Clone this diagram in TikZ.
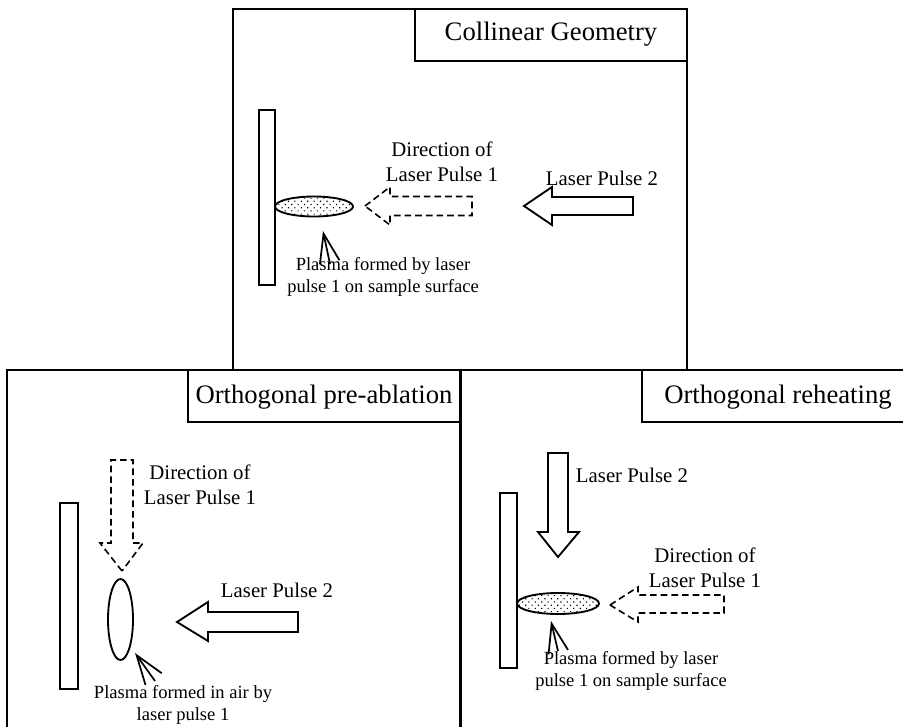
\documentclass[tikz,border=0pt]{standalone}
\usepackage{fontspec}
\setmainfont{Liberation Serif}
\usetikzlibrary{arrows.meta,patterns.meta}
\begin{document}
\begin{tikzpicture}[x=0.75pt,y=-0.75pt,
  panel/.style={draw=black,line width=1.4pt,fill=white},
  titlebox/.style={draw=black,line width=1.2pt,fill=white},
  titletext/.style={font=\fontsize{20}{24}\selectfont,inner sep=0pt},
  label/.style={font=\fontsize{15.6}{18.8}\selectfont,align=center,inner sep=0pt},
  smalllabel/.style={font=\fontsize{13.9}{16.5}\selectfont,align=center,inner sep=0pt},
  sample/.style={draw=black,line width=1.4pt},
  blockarrow/.style={draw=black,line width=1.4pt,line join=miter},
  dasharrow/.style={draw=black,line width=1.2pt,dash pattern=on 5pt off 3pt},
  plasma/.style={draw=black,line width=1.4pt,pattern={Dots[distance=3.4pt,angle=45,radius=0.6pt]}},
  airplasma/.style={draw=black,line width=1.4pt},
  pointer/.style={draw=black,line width=1.3pt,-{Straight Barb[length=22pt,width=15pt,line width=1.3pt]}}
]
\useasboundingbox (0,0) rectangle (903,727);
\fill[white] (0,0) rectangle (903,727);

% ---------------- top panel: collinear ----------------
\draw[panel] (233,9) rectangle (687,370);
\draw[titlebox] (415,9) rectangle (687,61);
\node[titletext] (tTitle) at (551,34) {Collinear Geometry};

\draw[sample] (259,110) rectangle (275,285);
\draw[plasma] (314,206.5) ellipse [x radius=39, y radius=10];
\draw[dasharrow] (365,206) -- (390,187) -- (390,196.5) -- (472,196.5) -- (472,215.5) -- (390,215.5) -- (390,225) -- cycle;
\draw[blockarrow] (524,206) -- (552,187) -- (552,197) -- (633,197) -- (633,215) -- (552,215) -- (552,225) -- cycle;
\node[label] (tDir) at (442,162) {Direction of\\Laser Pulse 1};
\node[label] (tLP2) at (602,178) {Laser Pulse 2};
\coordinate (tPtip) at (323,231);
\coordinate (tPtail) at (330,264);
\draw[pointer] (tPtail) -- (tPtip);
\node[smalllabel] (tPl) at (383,277) {Plasma formed by laser\\pulse 1 on sample surface};

% ---------------- bottom left: orthogonal pre-ablation ----------------
\draw[panel] (7,370) rectangle (460,740);
\draw[titlebox] (188,370) rectangle (460,422);
\node[titletext] (lTitle) at (324,397) {Orthogonal pre-ablation};

\draw[sample] (60,503) rectangle (78,689);
\draw[airplasma] (120.5,619.5) ellipse [x radius=12.5, y radius=40.5];
\draw[dasharrow] (122,571) -- (100,543) -- (111,543) -- (111,460) -- (133,460) -- (133,543) -- (143,543) -- cycle;
\draw[blockarrow] (177,622) -- (208,602) -- (208,612) -- (298,612) -- (298,632) -- (208,632) -- (208,641) -- cycle;
\node[label] (lDir) at (200,485) {Direction of\\Laser Pulse 1};
\node[label] (lLP2) at (277,590) {Laser Pulse 2};
\coordinate (lPtip) at (135,653);
\coordinate (lPtail) at (155,681);
\draw[pointer] (lPtail) -- (lPtip);
\node[smalllabel] (lPl) at (183,705) {Plasma formed in air by\\laser pulse 1};

% ---------------- bottom right: orthogonal reheating ----------------
\draw[panel] (461,370) rectangle (910,740);
\draw[titlebox] (642,370) rectangle (910,422);
\node[titletext] (rTitle) at (778,397) {Orthogonal reheating};

\draw[sample] (500,493) rectangle (517,668);
\draw[plasma] (558,603.5) ellipse [x radius=41, y radius=10.5];
\draw[blockarrow] (558,557) -- (538,532) -- (548,532) -- (548,453) -- (568,453) -- (568,532) -- (579,532) -- cycle;
\draw[dasharrow] (610,605) -- (638,587) -- (638,595) -- (724,595) -- (724,613) -- (638,613) -- (638,622) -- cycle;
\node[label] (rLP2) at (632,475) {Laser Pulse 2};
\node[label] (rDir) at (705,568) {Direction of\\Laser Pulse 1};
\coordinate (rPtip) at (551,621);
\coordinate (rPtail) at (558,651);
\draw[pointer] (rPtail) -- (rPtip);
\node[smalllabel] (rPl) at (631,671) {Plasma formed by laser\\pulse 1 on sample surface};
\end{tikzpicture}
\end{document}
